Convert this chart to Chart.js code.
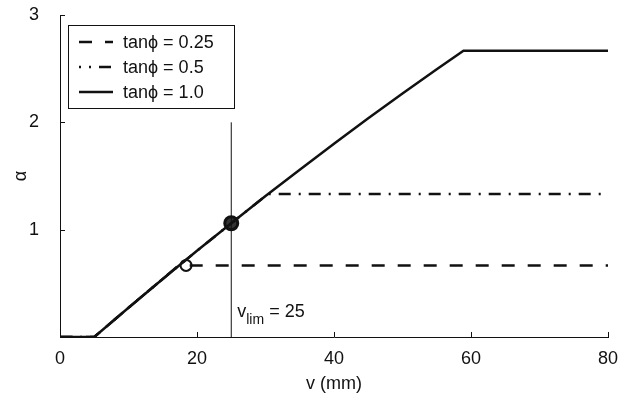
<!DOCTYPE html>
<html>
<head>
<meta charset="utf-8">
<script src="https://cdn.jsdelivr.net/npm/chart.js@4/dist/chart.umd.min.js"></script>
<style>
    html, body { margin: 0; padding: 0; background: #fff; }
    #wrap { width: 628px; height: 395px; }
</style>
</head>
<body>
<div id="wrap"><canvas id="alpha-chart"></canvas></div>
<script>
// ---- data ----
const vSolid = [0, 5, 10, 15, 20, 25, 30, 35, 40, 45, 50, 55, 58.9, 80];
const aSolid = [0, 0, 0.273, 0.541, 0.803, 1.060, 1.313, 1.559, 1.801, 2.038, 2.269, 2.495, 2.667, 2.667];

const vHalf = [0, 5, 10, 15, 20, 25, 30.4, 80];
const aHalf = [0, 0, 0.273, 0.541, 0.803, 1.060, 1.333, 1.333];

const vQuarter = [0, 5, 10, 15, 17.3, 80];
const aQuarter = [0, 0, 0.273, 0.541, 0.667, 0.667];

const vlimX = [25, 25];
const vlimY = [0, 2];

const markQuarterX = [18.4];
const markQuarterY = [0.667];
const markLimX = [25];
const markLimY = [1.06];

const xTicks = [0, 20, 40, 60, 80];
const yTicks = [0, 1, 2, 3];
const legendLabels = ['tan\u03d5 = 0.25', 'tan\u03d5 = 0.5', 'tan\u03d5 = 1.0'];

const FONT = '"Liberation Sans", Arial, sans-serif';
const INK = '#111';

const pts = (xs, ys) => xs.map((x, i) => ({ x: x, y: ys[i] }));

// dash patterns
const styles = {
    quarter: [13, 13],
    half: [12, 8, 2, 8],
    solid: []
};

// inward tick marks + legend box + v_lim label
const extras = {
    id: 'extras',
    afterDraw(chart) {
        const ctx = chart.ctx;
        const xs = chart.scales.x;
        const ys = chart.scales.y;
        const area = chart.chartArea;
        ctx.save();
        ctx.strokeStyle = INK;
        ctx.lineWidth = 1;
        ctx.setLineDash([]);
        ctx.beginPath();
        xTicks.forEach(v => {
            const px = Math.round(xs.getPixelForValue(v)) + 0.5;
            ctx.moveTo(px, area.bottom);
            ctx.lineTo(px, area.bottom - 5);
        });
        yTicks.forEach(v => {
            const py = Math.round(ys.getPixelForValue(v)) + 0.5;
            ctx.moveTo(area.left, py);
            ctx.lineTo(area.left + 5, py);
        });
        ctx.stroke();

        // legend
        const bx = 68, by = 25, bw = 166, bh = 83;
        ctx.fillStyle = '#fff';
        ctx.fillRect(bx, by, bw, bh);
        ctx.strokeRect(bx + 0.5, by + 0.5, bw, bh);
        const rows = [
            { dash: styles.quarter, y: 42 },
            { dash: styles.half, y: 67, offset: 10 },
            { dash: styles.solid, y: 92 }
        ];
        ctx.font = '18px ' + FONT;
        ctx.textBaseline = 'middle';
        rows.forEach((r, i) => {
            ctx.beginPath();
            ctx.lineWidth = 2.5;
            ctx.setLineDash(r.dash);
            ctx.lineDashOffset = r.offset || 0;
            ctx.moveTo(79, r.y);
            ctx.lineTo(113, r.y);
            ctx.stroke();
            ctx.setLineDash([]);
            ctx.fillStyle = INK;
            ctx.fillText(legendLabels[i], 123, r.y + 1);
        });

        // v_lim = 25 label
        const lx = xs.getPixelForValue(25) + 6;
        const ly = 317;
        ctx.fillStyle = INK;
        ctx.textBaseline = 'alphabetic';
        ctx.font = '18px ' + FONT;
        ctx.fillText('v', lx, ly);
        let w = ctx.measureText('v').width;
        ctx.font = '14px ' + FONT;
        ctx.fillText('lim', lx + w, ly + 7);
        w += ctx.measureText('lim').width;
        ctx.font = '18px ' + FONT;
        ctx.fillText(' = 25', lx + w, ly);
        ctx.restore();
    }
};

const lineSet = (data, dash) => ({
    type: 'line',
    data: data,
    borderColor: INK,
    borderWidth: 2.5,
    borderDash: dash,
    pointRadius: 0,
    fill: false,
    tension: 0
});

new Chart(document.getElementById('alpha-chart'), {
    type: 'line',
    data: {
        datasets: [
            lineSet(pts(vQuarter, aQuarter), styles.quarter),
            lineSet(pts(vHalf, aHalf), styles.half),
            lineSet(pts(vSolid, aSolid), styles.solid),
            {
                type: 'line',
                data: pts(vlimX, vlimY),
                borderColor: INK,
                borderWidth: 1,
                pointRadius: 0
            },
            {
                type: 'scatter',
                data: pts(markQuarterX, markQuarterY),
                pointStyle: 'circle',
                pointRadius: 5.5,
                borderWidth: 2,
                borderColor: INK,
                backgroundColor: 'rgba(0,0,0,0)'
            },
            {
                type: 'scatter',
                data: pts(markLimX, markLimY),
                pointStyle: 'circle',
                pointRadius: 6.5,
                borderWidth: 3,
                borderColor: INK,
                backgroundColor: '#333'
            }
        ]
    },
    options: {
        responsive: true,
        maintainAspectRatio: false,
        animation: false,
        layout: { padding: { top: 15, right: 20, left: 0, bottom: 0 } },
        plugins: {
            legend: { display: false },
            tooltip: { enabled: false }
        },
        scales: {
            x: {
                type: 'linear',
                min: 0,
                max: 80,
                afterFit(s) { s.height = 58; s.paddingLeft = 0; s.paddingRight = 0; },
                afterBuildTicks(s) { s.ticks = xTicks.map(v => ({ value: v })); },
                grid: { display: false },
                border: { display: true, color: INK, width: 1 },
                ticks: {
                    color: INK,
                    padding: 3,
                    maxRotation: 0,
                    font: { family: FONT, size: 18 }
                },
                title: {
                    display: true,
                    text: 'v (mm)',
                    color: INK,
                    font: { family: FONT, size: 18 },
                    padding: 0
                }
            },
            y: {
                type: 'linear',
                min: 0,
                max: 3,
                afterFit(s) { s.width = 60; s.paddingTop = 0; s.paddingBottom = 0; },
                afterBuildTicks(s) { s.ticks = yTicks.map(v => ({ value: v })); },
                grid: { display: false },
                border: { display: true, color: INK, width: 1 },
                ticks: {
                    color: INK,
                    padding: 13,
                    font: { family: FONT, size: 18 },
                    callback: v => (v === 0 ? '' : v)
                },
                title: {
                    display: true,
                    text: '\u03b1',
                    color: INK,
                    font: { family: FONT, size: 18 },
                    padding: 10
                }
            }
        }
    },
    plugins: [extras]
});
</script>
</body>
</html>
